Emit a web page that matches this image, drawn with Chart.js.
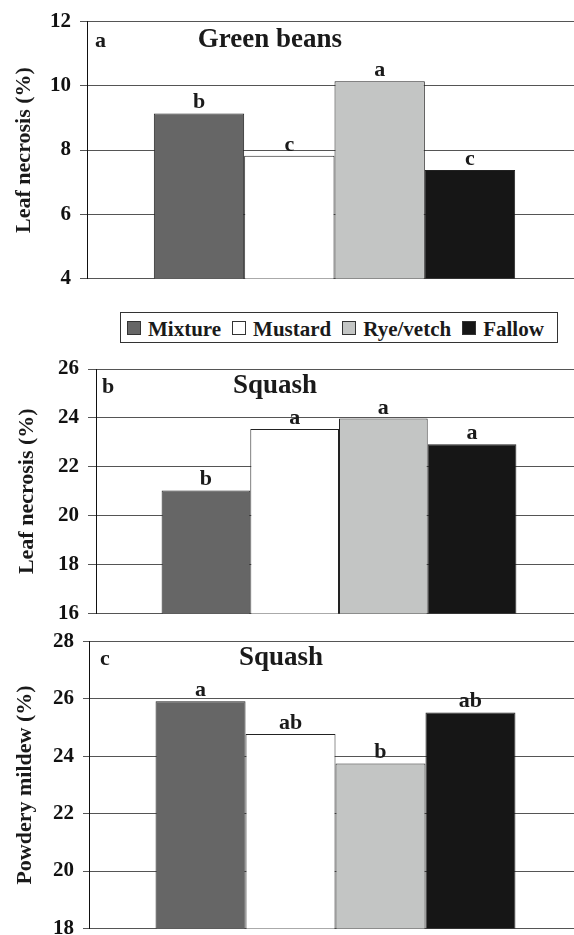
<!DOCTYPE html>
<html><head><meta charset="utf-8">
<script src="https://cdn.jsdelivr.net/npm/chart.js@4/dist/chart.umd.min.js"></script>
<style>
html,body{margin:0;padding:0;background:#fff;overflow:hidden;width:574px;height:935px;}
#wrap{position:relative;width:574px;height:935px;overflow:hidden;}
canvas{position:absolute;left:0;}
#legend{position:absolute;left:120px;top:312px;width:430px;height:29px;border:1px solid #333;
 display:flex;align-items:center;padding-left:6px;box-sizing:content-box;
 font-family:"Liberation Serif","Times New Roman",serif;font-weight:bold;font-size:21px;color:#1a1a1a;}
#legend .sw{display:inline-block;width:14px;height:14px;box-sizing:border-box;border:1px solid #333;margin-right:7px;}
#legend .it{display:flex;align-items:center;margin-right:11px;white-space:nowrap;padding-top:3px;}
#legend .it .sw{margin-top:-3px;}
</style></head>
<body>
<div id="wrap">
<canvas id="ca" width="582" height="300" style="top:0px"></canvas>
<div id="legend"></div>
<canvas id="cb" width="582" height="290" style="top:345px"></canvas>
<canvas id="cc" width="582" height="330" style="top:620px"></canvas>
</div>
<script>
// ---- data ----
const categories = ['Mixture', 'Mustard', 'Rye/vetch', 'Fallow'];
const beansNecrosis = [9.14, 7.82, 10.14, 7.38];
const squashNecrosis = [21.03, 23.54, 23.97, 22.92];
const squashMildew = [25.92, 24.78, 23.75, 25.53];
const beansLetters = ['b', 'c', 'a', 'c'];
const squashNecrosisLetters = ['b', 'a', 'a', 'a'];
const squashMildewLetters = ['a', 'ab', 'b', 'ab'];
const beansTicks = [4, 6, 8, 10, 12];
const squashNecrosisTicks = [16, 18, 20, 22, 24, 26];
const squashMildewTicks = [18, 20, 22, 24, 26, 28];

// ---- styles ----
const barColors = ['#666666', '#ffffff', '#c3c5c4', '#161616'];
const FONT = '"Liberation Serif", "Times New Roman", serif';
const TXT = '#1a1a1a';

// legend (HTML)
const lg = document.getElementById('legend');
categories.forEach((c, i) => {
  const it = document.createElement('span'); it.className = 'it';
  const sw = document.createElement('span'); sw.className = 'sw'; sw.style.background = barColors[i];
  it.appendChild(sw); it.appendChild(document.createTextNode(c)); lg.appendChild(it);
});

const annot = {
  id: 'annot',
  afterDatasetsDraw(chart, args, o) {
    const ctx = chart.ctx, ca = chart.chartArea;
    ctx.save();
    ctx.fillStyle = TXT; ctx.textBaseline = 'alphabetic';
    ctx.font = 'bold 22px ' + FONT; ctx.textAlign = 'center';
    chart.data.datasets.forEach((ds, i) => {
      const el = chart.getDatasetMeta(i).data[0];
      ctx.fillText(o.letters[i], el.x, el.y - 5);
    });
    ctx.textAlign = 'left';
    ctx.fillText(o.panel, o.letterX, ca.top + o.base);
    ctx.font = 'bold 27px ' + FONT; ctx.textAlign = 'center';
    ctx.fillText(o.title, o.titleX, ca.top + o.base);
    ctx.restore();
  }
};

function makeChart(id, values, letters, ticks, yTitle, g) {
  new Chart(document.getElementById(id), {
    type: 'bar',
    data: {
      labels: [''],
      datasets: categories.map((c, i) => ({
        label: c, data: [values[i]], backgroundColor: barColors[i],
        borderColor: '#222', borderWidth: 1,
        categoryPercentage: 0.73, barPercentage: 1
      }))
    },
    options: {
      responsive: false, animation: false,
      layout: { padding: { left: 0, right: 0, top: g.top, bottom: g.bottom } },
      plugins: {
        legend: { display: false }, tooltip: { enabled: false },
        annot: { letters, panel: g.panel, title: g.title, titleX: g.titleX, letterX: g.letterX, base: g.base }
      },
      scales: {
        x: { display: false },
        y: {
          min: ticks[0], max: ticks[ticks.length - 1],
          afterFit: s => { s.width = g.left; },
          ticks: { stepSize: ticks[1] - ticks[0], padding: 9, color: '#111', font: { family: FONT, size: 21, weight: 'bold' } },
          grid: { color: '#555', lineWidth: 1, tickLength: g.tick, drawTicks: true },
          border: { color: '#111', width: 1 },
          title: { display: true, text: yTitle, color: TXT, font: { family: FONT, size: 22, weight: 'bold' }, padding: { top: g.tpad, bottom: 0 } }
        }
      }
    },
    plugins: [annot]
  });
}

makeChart('ca', beansNecrosis, beansLetters, beansTicks, 'Leaf necrosis (%)',
  { left: 87, top: 21, bottom: 18, tick: 7, tpad: 11, panel: 'a', title: 'Green beans', titleX: 270, letterX: 95, base: 25 });
makeChart('cb', squashNecrosis, squashNecrosisLetters, squashNecrosisTicks, 'Leaf necrosis (%)',
  { left: 96, top: 24, bottom: 13, tick: 8, tpad: 14, panel: 'b', title: 'Squash', titleX: 275, letterX: 102, base: 24 });
makeChart('cc', squashMildew, squashMildewLetters, squashMildewTicks, 'Powdery mildew (%)',
  { left: 89, top: 21, bottom: 21, tick: 6, tpad: 12, panel: 'c', title: 'Squash', titleX: 281, letterX: 100, base: 23 });
</script>
</body></html>
